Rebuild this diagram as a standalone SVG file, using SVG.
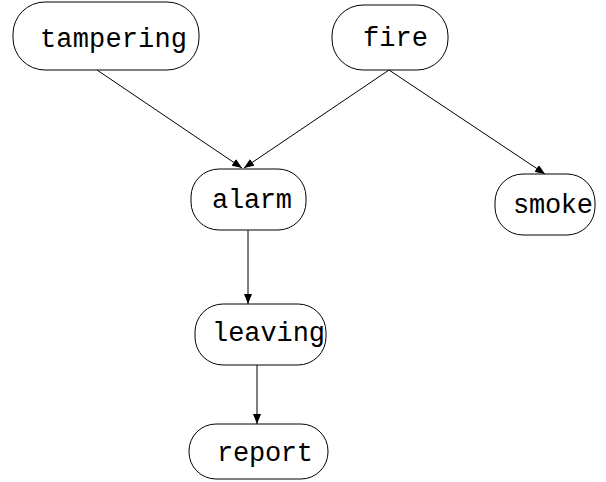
<svg xmlns="http://www.w3.org/2000/svg" width="606" height="482" viewBox="0 0 606 482">
<style>
.n{fill:#fff;stroke:#000;stroke-width:1}
.t{font-family:"Liberation Mono","DejaVu Sans Mono",monospace;font-size:27px;fill:#000}
.e{stroke:#000;stroke-width:1;fill:none;marker-end:url(#a)}
</style>
<defs>
<marker id="a" markerWidth="10" markerHeight="8" refX="10" refY="4" orient="auto" markerUnits="userSpaceOnUse">
<path d="M0,0 L10,4 L0,8 Z" fill="#000"/>
</marker>
</defs>
<rect width="606" height="482" fill="#fff"/>
<g id="edges">
<line class="e" x1="97" y1="70" x2="242" y2="168"/>
<line class="e" x1="389" y1="70" x2="244" y2="168"/>
<line class="e" x1="389" y1="70" x2="545" y2="174"/>
<line class="e" x1="248" y1="230" x2="248" y2="304"/>
<line class="e" x1="257" y1="365" x2="257" y2="424"/>
</g>
<g id="tampering"><rect class="n" x="13" y="2" width="186" height="68" rx="32"/><text class="t" x="40" y="47" textLength="147">tampering</text></g>
<g id="fire"><rect class="n" x="332" y="5" width="116" height="65" rx="31"/><text class="t" x="363" y="46" textLength="65">fire</text></g>
<g id="smoke"><rect class="n" x="495" y="174" width="100" height="61" rx="28"/><text class="t" x="513" y="213" textLength="80">smoke</text></g>
<g id="alarm"><rect class="n" x="191" y="169" width="115" height="61" rx="28"/><text class="t" x="212" y="208" textLength="80">alarm</text></g>
<g id="leaving"><rect class="n" x="195" y="304" width="131" height="61" rx="28"/><text class="t" x="212" y="341" textLength="113">leaving</text></g>
<g id="report"><rect class="n" x="189" y="424" width="139" height="55" rx="27"/><text class="t" x="217" y="461" textLength="96">report</text></g>
</svg>
